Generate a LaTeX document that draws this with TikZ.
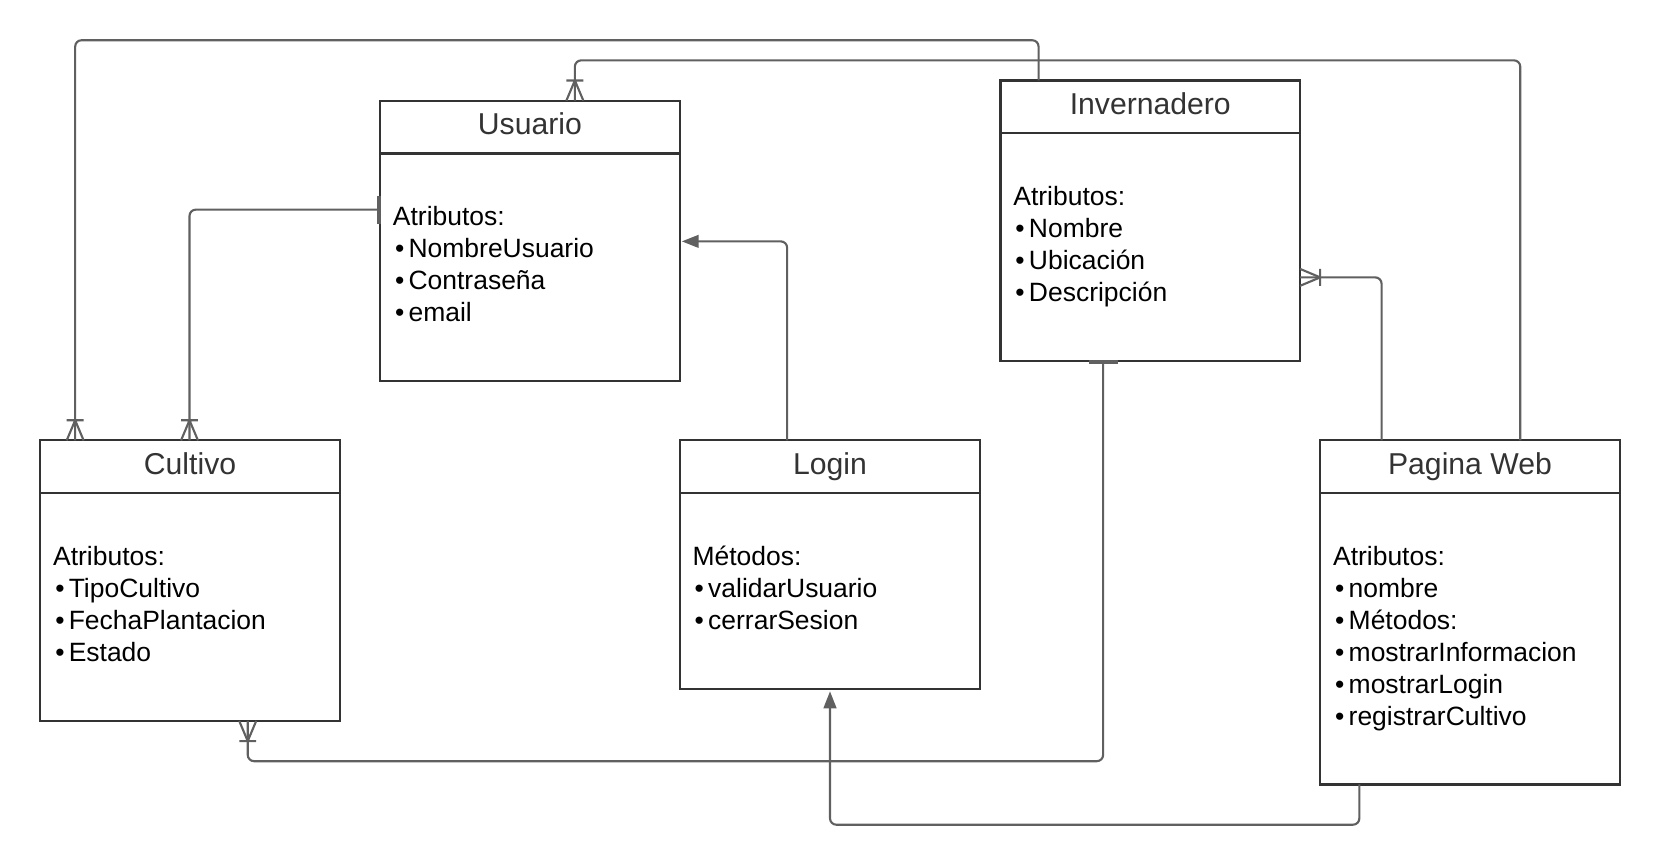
\documentclass[tikz,border=0pt]{standalone}
\usepackage{fontspec}
\setmainfont{Liberation Sans}
\usetikzlibrary{calc,arrows.meta}
\definecolor{boxc}{HTML}{333333}
\definecolor{connc}{HTML}{606060}
\tikzset{
  box/.style={draw=boxc, line width=2pt, minimum width=283pt, inner sep=0pt, outer sep=0pt, fill=white},
  hdr/.style={draw=boxc, line width=2pt},
  ttl/.style={font=\fontsize{28.5}{34}\selectfont, text=boxc, anchor=base, inner sep=0pt},
  txt/.style={font=\fontsize{25}{30}\selectfont, text=black, anchor=base west, inner sep=0pt},
  conn/.style={draw=connc, line width=2pt, rounded corners=6pt},
  foot/.style={draw=connc, line width=2pt},
  onebar/.style={draw=connc, line width=3.5pt},
  arr/.style={-{Triangle[length=16pt,width=12pt]}, shorten >=2pt},
  crow/.pic={\draw[foot] (0,-19) -- (-8,0) (0,-19) -- (8,0) (-8,-19) -- (8,-19);}
}
\newcommand\bl{\textbullet\kern4pt}
\begin{document}
\begin{tikzpicture}[x=1pt,y=-1pt]
\useasboundingbox (0,0) rectangle (1568,818);

% boxes
\node[box, minimum height=265pt] (usr) at (500.5,227.5) {};
\node[box, minimum height=265pt] (inv) at (1086.5,208.5) {};
\node[box, minimum height=265pt] (cul) at (179.5,548.5) {};
\node[box, minimum height=235pt] (log) at (784,533.5) {};
\node[box, minimum height=325pt] (web) at (1388.5,578.5) {};

\foreach \b in {usr,inv,cul,log,web}{
  \draw[hdr] ([yshift=-50pt]\b.north west) -- ([yshift=-50pt]\b.north east);
}

% titles
\node[ttl] (usrT) at ([yshift=-32pt]usr.north) {Usuario};
\node[ttl] (invT) at ([yshift=-32pt]inv.north) {Invernadero};
\node[ttl] (culT) at ([yshift=-32pt]cul.north) {Cultivo};
\node[ttl] (logT) at ([yshift=-32pt]log.north) {Login};
\node[ttl] (webT) at ([yshift=-32pt]web.north) {Pagina Web};

% Usuario body
\node[txt] (u1) at (371,213) {Atributos:};
\node[txt] (u2) at (373,243.3) {\bl NombreUsuario};
\node[txt] (u3) at (373,273.6) {\bl Contraseña};
\node[txt] (u4) at (373,303.9) {\bl email};

% Invernadero body
\node[txt] (i1) at (957,194) {Atributos:};
\node[txt] (i2) at (959,224.3) {\bl Nombre};
\node[txt] (i3) at (959,254.6) {\bl Ubicación};
\node[txt] (i4) at (959,284.9) {\bl Descripción};

% Cultivo body
\node[txt] (c1) at (50,534) {Atributos:};
\node[txt] (c2) at (52,564.3) {\bl TipoCultivo};
\node[txt] (c3) at (52,594.6) {\bl FechaPlantacion};
\node[txt] (c4) at (52,624.9) {\bl Estado};

% Login body
\node[txt] (l1) at (654,534) {Métodos:};
\node[txt] (l2) at (656,564.3) {\bl validarUsuario};
\node[txt] (l3) at (656,594.6) {\bl cerrarSesion};

% Pagina Web body
\node[txt] (w1) at (1259,534) {Atributos:};
\node[txt] (w2) at (1261,564.3) {\bl nombre};
\node[txt] (w3) at (1261,594.6) {\bl Métodos:};
\node[txt] (w4) at (1261,624.9) {\bl mostrarInformacion};
\node[txt] (w5) at (1261,655.2) {\bl mostrarLogin};
\node[txt] (w6) at (1261,685.5) {\bl registrarCultivo};

% connectors
\coordinate (k1) at (71,38);
\draw[conn] ([xshift=36pt]inv.north west) |- (k1) -- ([xshift=33pt]cul.north west);
\pic at ([xshift=33pt]cul.north west) {crow};

\coordinate (k2) at (543,57);
\draw[conn] ([xshift=189pt]web.north west) |- (k2) -- ([xshift=184pt]usr.north west);
\pic at ([xshift=184pt]usr.north west) {crow};

\draw[conn] ([yshift=-103pt]usr.north west) -| ([xshift=141pt]cul.north west);
\draw[onebar] ($(usr.north west)+(-1,90)$) -- ($(usr.north west)+(-1,117)$);
\pic at ([xshift=141pt]cul.north west) {crow};

\draw[conn,arr] ([xshift=101pt]log.north west) |- ([yshift=-133pt]usr.north east);

\draw[conn] ([xshift=58pt]web.north west) |- ([yshift=-186pt]inv.north east);
\pic[rotate=-90] at ([yshift=-186pt]inv.north east) {crow};

\coordinate (k3) at (234,719);
\draw[conn] ([xshift=97pt]inv.south west) |- (k3) -- ([xshift=196pt]cul.south west);
\draw[onebar] ($(inv.south west)+(84,1.2)$) -- ($(inv.south west)+(111,1.2)$);
\pic[rotate=180] at ([xshift=196pt]cul.south west) {crow};

\coordinate (k4) at (784,779);
\draw[conn,arr] ([xshift=37pt]web.south west) |- (k4) -- (log.south);
\end{tikzpicture}
\end{document}
